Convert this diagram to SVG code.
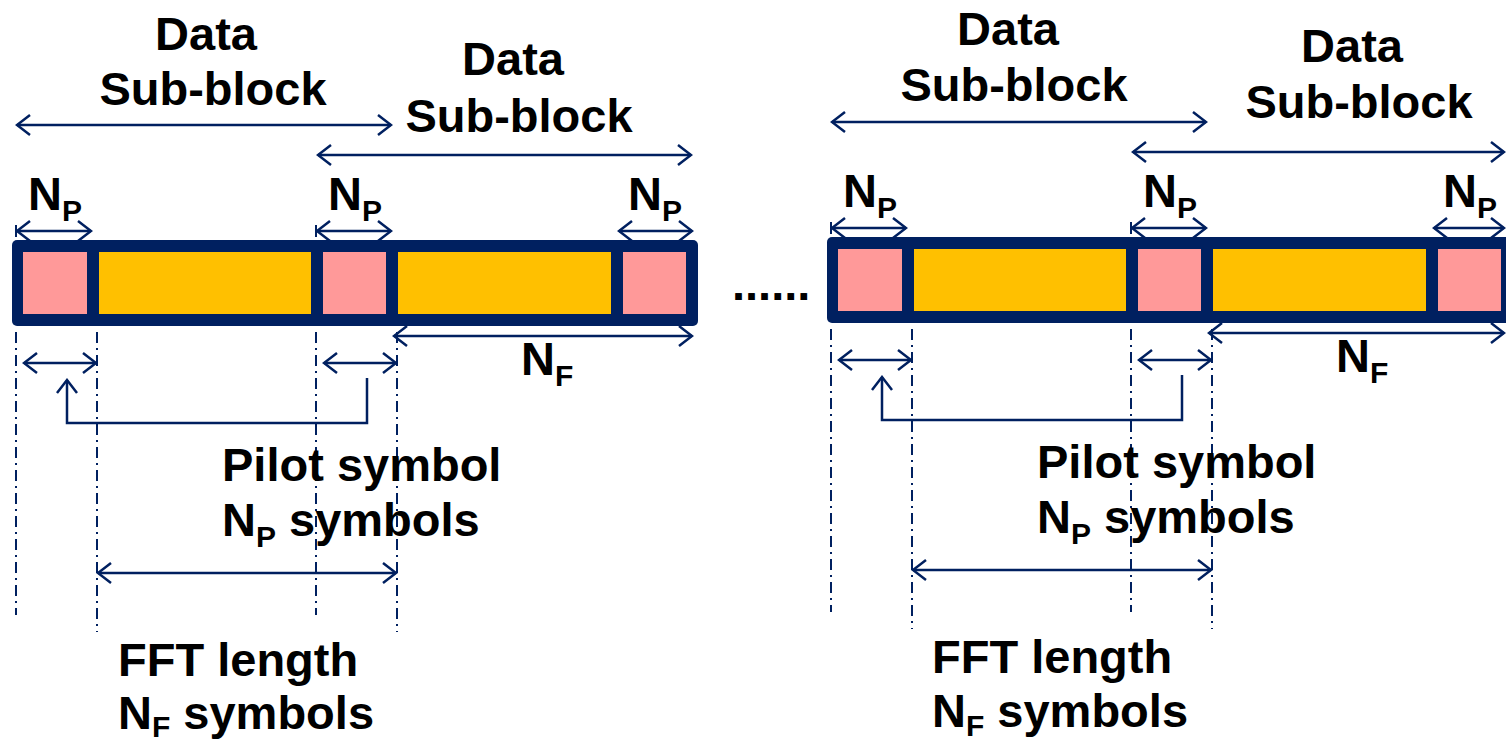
<svg xmlns="http://www.w3.org/2000/svg" width="1506" height="741" viewBox="0 0 1506 741">
<style>
  .t { font-family: "Liberation Sans", Arial, sans-serif; font-weight: bold; font-size: 47px; fill: #000; }
  .c { text-anchor: middle; }
  .sub { font-size: 30px; }
  .frame { fill: #002060; }
  .pilot { fill: #FF9999; }
  .data { fill: #FFC000; }
  .arr { stroke: #002060; stroke-width: 2.5; fill: none; marker-start: url(#ah); marker-end: url(#ah); }
  .arr1 { stroke: #002060; stroke-width: 2.5; fill: none; marker-end: url(#ah); }
  .dd { stroke: #002060; stroke-width: 2; fill: none; stroke-dasharray: 11 5 2 5; }
  .tick { stroke: #002060; stroke-width: 2; }
</style>
<defs>
  <marker id="ah" viewBox="-15 -12 17 24" markerWidth="17" markerHeight="24" refX="0" refY="0" orient="auto-start-reverse" markerUnits="userSpaceOnUse">
    <path d="M-13,-10 L0,0 L-13,10" fill="none" stroke="#002060" stroke-width="2.5"/>
  </marker>
</defs>
<rect width="1506" height="741" fill="#fff"/>

<g id="block-left">
  <rect class="frame" x="12" y="240" width="686" height="86" rx="5"/>
  <rect class="pilot" x="23" y="252" width="64" height="62"/>
  <rect class="data" x="99" y="252" width="212" height="62"/>
  <rect class="pilot" x="323" y="252" width="63" height="62"/>
  <rect class="data" x="398" y="252" width="213" height="62"/>
  <rect class="pilot" x="623" y="252" width="63" height="62"/>
</g>
<g id="block-right">
  <rect class="frame" x="827" y="237" width="686" height="86" rx="5"/>
  <rect class="pilot" x="838" y="249" width="64" height="62"/>
  <rect class="data" x="914" y="249" width="212" height="62"/>
  <rect class="pilot" x="1138" y="249" width="63" height="62"/>
  <rect class="data" x="1213" y="249" width="213" height="62"/>
  <rect class="pilot" x="1438" y="249" width="63" height="62"/>
</g>

<g id="connectors">
  <line class="arr" x1="17" y1="125" x2="391" y2="125"/>
  <line class="arr" x1="318" y1="155" x2="691" y2="155"/>
  <line class="arr" x1="17" y1="231" x2="91" y2="231"/>
  <line class="arr" x1="317" y1="231" x2="391" y2="231"/>
  <line class="arr" x1="619" y1="231" x2="692" y2="231"/>
  <line class="tick" x1="16" y1="225" x2="16" y2="237"/>
  <line class="tick" x1="316" y1="225" x2="316" y2="237"/>
  <line class="arr" x1="394" y1="336" x2="692" y2="336"/>
  <line class="dd" x1="16" y1="332" x2="16" y2="615"/>
  <line class="dd" x1="97" y1="332" x2="97" y2="632"/>
  <line class="dd" x1="316" y1="332" x2="316" y2="615"/>
  <line class="dd" x1="397" y1="332" x2="397" y2="632"/>
  <line class="arr" x1="24" y1="363" x2="96" y2="363"/>
  <line class="arr" x1="324" y1="363" x2="396" y2="363"/>
  <polyline class="arr1" points="367,378 367,423 67,423 67,380"/>
  <line class="arr" x1="98" y1="573" x2="396" y2="573"/>
  <line class="arr" x1="832" y1="122" x2="1206" y2="122"/>
  <line class="arr" x1="1133" y1="152" x2="1504" y2="152"/>
  <line class="arr" x1="832" y1="228" x2="906" y2="228"/>
  <line class="arr" x1="1132" y1="228" x2="1206" y2="228"/>
  <line class="arr" x1="1434" y1="228" x2="1504" y2="228"/>
  <line class="tick" x1="831" y1="222" x2="831" y2="234"/>
  <line class="tick" x1="1131" y1="222" x2="1131" y2="234"/>
  <line class="arr" x1="1209" y1="333" x2="1504" y2="333"/>
  <line class="dd" x1="831" y1="329" x2="831" y2="612"/>
  <line class="dd" x1="912" y1="329" x2="912" y2="629"/>
  <line class="dd" x1="1131" y1="329" x2="1131" y2="612"/>
  <line class="dd" x1="1212" y1="329" x2="1212" y2="629"/>
  <line class="arr" x1="839" y1="360" x2="911" y2="360"/>
  <line class="arr" x1="1139" y1="360" x2="1211" y2="360"/>
  <polyline class="arr1" points="1182,375 1182,420 882,420 882,377"/>
  <line class="arr" x1="913" y1="570" x2="1211" y2="570"/>
</g>

<g id="labels-left">
  <text class="t c" x="206" y="50">Data</text>
  <text class="t c" x="213" y="105">Sub-block</text>
  <text class="t c" x="513" y="75">Data</text>
  <text class="t c" x="519" y="132">Sub-block</text>
  <text class="t" x="28" y="210">N<tspan class="sub" dy="11">P</tspan></text>
  <text class="t" x="328" y="210">N<tspan class="sub" dy="11">P</tspan></text>
  <text class="t" x="628" y="210">N<tspan class="sub" dy="11">P</tspan></text>
  <text class="t" x="521" y="375">N<tspan class="sub" dy="11">F</tspan></text>
  <text class="t" x="222" y="481">Pilot symbol</text>
  <text class="t" x="222" y="536">N<tspan class="sub" dy="11">P</tspan><tspan dy="-11"> symbols</tspan></text>
  <text class="t" x="118" y="676">FFT length</text>
  <text class="t" x="118" y="729">N<tspan class="sub" dy="8">F</tspan><tspan dy="-8"> symbols</tspan></text>
</g>
<text class="t" x="732" y="300">......</text>
<g id="labels-right">
  <text class="t c" x="1008" y="45">Data</text>
  <text class="t c" x="1014" y="101">Sub-block</text>
  <text class="t c" x="1352" y="62">Data</text>
  <text class="t c" x="1359" y="118">Sub-block</text>
  <text class="t" x="843" y="207">N<tspan class="sub" dy="11">P</tspan></text>
  <text class="t" x="1143" y="207">N<tspan class="sub" dy="11">P</tspan></text>
  <text class="t" x="1443" y="207">N<tspan class="sub" dy="11">P</tspan></text>
  <text class="t" x="1336" y="372">N<tspan class="sub" dy="11">F</tspan></text>
  <text class="t" x="1037" y="478">Pilot symbol</text>
  <text class="t" x="1037" y="533">N<tspan class="sub" dy="11">P</tspan><tspan dy="-11"> symbols</tspan></text>
  <text class="t" x="932" y="673">FFT length</text>
  <text class="t" x="932" y="727">N<tspan class="sub" dy="9">F</tspan><tspan dy="-9"> symbols</tspan></text>
</g>
</svg>
